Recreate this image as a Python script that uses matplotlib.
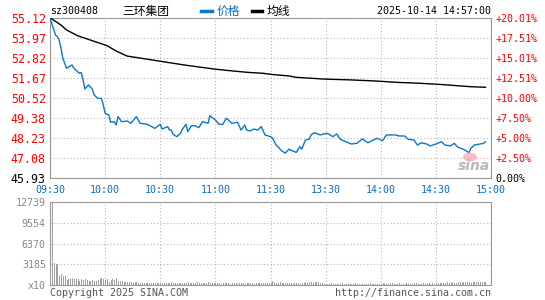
import numpy as np
import matplotlib.pyplot as plt
from matplotlib.lines import Line2D
from matplotlib.patches import Ellipse

# ---------------------------------------------------------------------------
# Data
# ---------------------------------------------------------------------------

code = "sz300408"
name = "三环集团"
stamp = "2025-10-14 14:57:00"
prev_close = 45.93
limit_up = 55.12
vol_max = 12739

price_labels = ["45.93", "47.08", "48.23", "49.38", "50.52",
                "51.67", "52.82", "53.97", "55.12"]
pct_labels = ["0.00%", "+2.50%", "+5.00%", "+7.50%", "+10.00%",
              "+12.51%", "+15.01%", "+17.51%", "+20.01%"]
time_labels = ["09:30", "10:00", "10:30", "11:00", "11:30",
               "13:30", "14:00", "14:30", "15:00"]
vol_labels = ["x10", "3185", "6370", "9554", "12739"]

# minutes since 09:30 (lunch break removed) and price
price_min = [0, 3, 4, 5, 6, 7, 9, 12, 13, 16, 17, 18, 19, 21, 23, 24, 26, 28,
             29, 30, 32, 33, 35, 36, 37, 39, 42, 44, 47, 49, 53, 57, 60, 61,
             64, 65, 66, 67, 69, 71, 72, 74, 75, 77, 79, 81, 83, 86, 87, 90,
             92, 94, 96, 99, 102, 104, 106, 107, 109, 111, 113, 115, 117, 120,
             121, 123, 124, 126, 128, 130, 132, 134, 136, 137, 139, 141, 142,
             144, 147, 149, 151, 154, 156, 158, 161, 164, 167, 170, 173, 176,
             178, 181, 183, 185, 188, 190, 193, 195, 198, 200, 202, 205, 207,
             210, 213, 215, 218, 220, 222, 225, 228, 229, 231, 234, 236, 237]
price_val = [55.12, 54.16, 54.06, 53.87, 53.40, 52.82, 52.25, 52.44, 52.25,
             51.96, 52.00, 51.58, 51.06, 51.29, 51.06, 50.72, 50.52, 50.52,
             50.14, 49.66, 49.57, 49.15, 49.18, 48.99, 49.47, 49.18, 49.22,
             49.09, 49.47, 49.09, 49.03, 48.80, 49.03, 48.76, 48.90, 48.70,
             48.70, 48.46, 48.32, 48.51, 48.74, 49.03, 48.61, 48.95, 48.95,
             48.84, 49.18, 49.09, 49.53, 49.28, 49.03, 49.03, 49.38, 49.09,
             49.15, 48.70, 48.99, 48.70, 48.65, 48.76, 48.70, 48.90, 48.42,
             48.32, 48.26, 47.84, 47.75, 47.52, 47.37, 47.60, 47.50, 47.42,
             47.75, 47.60, 48.13, 48.17, 48.42, 48.55, 48.42, 48.48, 48.51,
             48.32, 48.48, 48.17, 48.03, 47.90, 47.94, 48.19, 47.97, 48.13,
             48.23, 48.09, 48.42, 48.42, 48.42, 48.36, 48.36, 48.17, 48.13,
             47.84, 47.97, 47.90, 47.79, 47.90, 48.03, 47.84, 47.79, 47.94,
             47.71, 47.60, 47.40, 47.65, 47.84, 47.90, 47.94, 48.03]

avg_min = [0, 1, 6, 9, 15, 22, 31, 36, 42, 50, 59, 73, 89, 98, 107, 116, 122,
           130, 134, 149, 164, 177, 189, 201, 211, 219, 229, 237]
avg_val = [55.12, 55.08, 54.73, 54.45, 54.12, 53.87, 53.55, 53.24, 52.95,
           52.82, 52.67, 52.44, 52.21, 52.11, 52.02, 51.96, 51.88, 51.81,
           51.73, 51.63, 51.58, 51.52, 51.44, 51.39, 51.33, 51.27, 51.19, 51.16]

# per-minute volume, one list per half hour
vol_0930 = [1535, 12739, 3430, 3220, 3220, 1380, 1640, 1380, 1380, 770, 920,
            1075, 1075, 920, 920, 920, 610, 920, 770, 920, 770, 610, 610, 770,
            610, 610, 770, 920, 1075, 870]
vol_1000 = [770, 870, 510, 770, 870, 770, 1125, 610, 610, 610, 460, 410, 460,
            410, 510, 360, 410, 460, 360, 310, 360, 310, 310, 310, 360, 260,
            360, 260, 310, 360]
vol_1030 = [310, 260, 360, 310, 260, 310, 410, 310, 260, 310, 360, 310, 260,
            310, 360, 410, 310, 260, 360, 310, 410, 310, 360, 310, 260, 360,
            410, 310, 360, 310]
vol_1100 = [260, 310, 260, 210, 310, 260, 360, 260, 210, 260, 310, 260, 210,
            310, 260, 260, 210, 310, 260, 360, 260, 210, 260, 310, 260, 360,
            310, 260, 310, 360]
vol_1300 = [360, 665, 410, 360, 310, 410, 360, 310, 260, 310, 260, 310, 210,
            260, 310, 260, 210, 260, 310, 410, 360, 510, 410, 360, 460, 510,
            410, 310, 260, 210]
vol_1330 = [210, 160, 210, 260, 210, 160, 210, 160, 210, 260, 160, 210, 160,
            210, 160, 210, 260, 210, 160, 210, 160, 210, 160, 210, 260, 210,
            160, 210, 160, 210]
vol_1400 = [210, 260, 210, 160, 210, 260, 310, 210, 160, 210, 260, 210, 160,
            210, 260, 210, 160, 210, 260, 310, 210, 160, 210, 260, 210, 260,
            310, 210, 260, 210]
vol_1430 = [260, 310, 360, 260, 310, 360, 410, 310, 360, 410, 360, 310, 410,
            460, 360, 410, 510, 460, 410, 360, 460, 510, 410, 460, 510, 410,
            460, 510]

# ---------------------------------------------------------------------------
# Style
# ---------------------------------------------------------------------------

W, H = 545, 300
MONO = "DejaVu Sans Mono"
CJK = ["Noto Sans CJK SC", "DejaVu Sans"]
BLUE_LINE = "#0a78c8"
BLUE_TXT = "#0a6fc2"
RED = "#ff0000"
GRAY_TXT = "#888888"
BORDER = "#999999"
GRID = "#b4b4b4"
FS = 7.2


def box(x0, y0, x1, y1):
    """pixel box (top-left origin) -> figure fraction rect"""
    return [x0 / W, 1 - y1 / H, (x1 - x0) / W, (y1 - y0) / H]


def style_axes(a):
    for s in a.spines.values():
        s.set_color(BORDER)
        s.set_linewidth(0.8)
    a.grid(True, color=GRID, linestyle=(0, (1, 2)), linewidth=0.8)
    a.tick_params(length=0)


fig = plt.figure(figsize=(W / 100, H / 100), dpi=100)
ax = fig.add_axes(box(50, 18.3, 491, 178.3))
axv = fig.add_axes(box(50, 202, 491, 285))

# price panel
ax.plot(avg_min, avg_val, color="black", lw=1.0, zorder=3)
ax.plot(price_min, price_val, color=BLUE_LINE, lw=1.0, zorder=4)
ax.set_xlim(0, 240)
ax.set_ylim(prev_close, limit_up)
yt = np.linspace(prev_close, limit_up, len(price_labels))
ax.set_yticks(yt)
ax.set_yticklabels(price_labels, family=MONO, fontsize=8.4)
for i, t in enumerate(ax.get_yticklabels()):
    t.set_color("black" if i == 0 else RED)
ax.set_xticks(np.arange(0, 241, 30))
ax.set_xticklabels(time_labels, family=MONO, fontsize=FS, color=BLUE_TXT)
style_axes(ax)
ax.tick_params(axis="y", pad=3)
ax.tick_params(axis="x", pad=5)

ax2 = ax.twinx()
ax2.set_ylim(prev_close, limit_up)
ax2.set_yticks(yt)
ax2.set_yticklabels(pct_labels, family=MONO, fontsize=FS)
for i, t in enumerate(ax2.get_yticklabels()):
    t.set_color("black" if i == 0 else RED)
ax2.tick_params(length=0, pad=3.5)
for s in ax2.spines.values():
    s.set_visible(False)

# volume panel
vol = np.array(vol_0930 + vol_1000 + vol_1030 + vol_1100 +
               vol_1300 + vol_1330 + vol_1400 + vol_1430)
axv.bar(np.arange(len(vol)), vol, width=0.55, align="edge",
        color="#a0a0a0", zorder=3)
axv.set_xlim(0, 240)
axv.set_ylim(0, vol_max)
axv.set_yticks(np.linspace(0, vol_max, len(vol_labels)))
axv.set_yticklabels(vol_labels, family=MONO, fontsize=FS, color=GRAY_TXT)
axv.set_xticks(np.arange(0, 241, 30))
axv.set_xticklabels([])
style_axes(axv)
axv.tick_params(axis="y", pad=3)

# header
fy = 1 - 11 / H
fig.text(50 / W, fy, code, family=MONO, fontsize=FS, va="center", ha="left")
fig.text(122 / W, fy, name, family=CJK, fontsize=8.5, va="center", ha="left")
fig.add_artist(Line2D([201 / W, 212 / W], [fy, fy], color=BLUE_LINE, lw=2.5))
fig.text(217 / W, fy, "价格", family=CJK, fontsize=8.5, va="center",
         ha="left", color=BLUE_TXT)
fig.add_artist(Line2D([252 / W, 262 / W], [fy, fy], color="black", lw=2.5))
fig.text(267 / W, fy, "均线", family=CJK, fontsize=8.5, va="center", ha="left")
fig.text(491 / W, fy, stamp, family=MONO, fontsize=FS, va="center", ha="right")

# footer
fby = 1 - 292.5 / H
fig.text(50 / W, fby, "Copyright 2025 SINA.COM", family=MONO, fontsize=FS,
         va="center", ha="left", color="#555555")
fig.text(491 / W, fby, "http://finance.sina.com.cn", family=MONO, fontsize=FS,
         va="center", ha="right", color="#555555")

# sina watermark
fig.add_artist(Ellipse((470 / W, 1 - 157 / H), 14 / W, 9 / H,
                       facecolor="#f4b0b6", edgecolor="none", alpha=0.8))
fig.text(474 / W, 1 - 166 / H, "sina", fontsize=10, style="italic",
         weight="bold", color="#b8b8b8", ha="center", va="center")

plt.savefig("out.png", dpi=100)
plt.close(fig)
